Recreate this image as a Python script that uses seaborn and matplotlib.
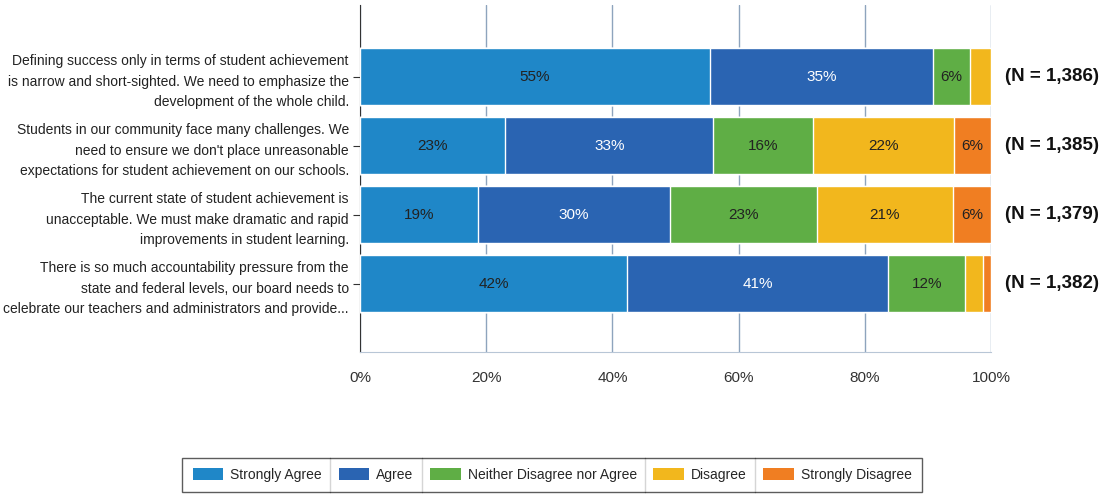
import numpy as np
import pandas as pd
import seaborn as sns
import matplotlib.pyplot as plt
from matplotlib.patches import Patch
from matplotlib.lines import Line2D

# data
statements = [
    "Defining success only in terms of student achievement\nis narrow and short-sighted. We need to emphasize the\ndevelopment of the whole child.",
    "Students in our community face many challenges. We\nneed to ensure we don't place unreasonable\nexpectations for student achievement on our schools.",
    "The current state of student achievement is\nunacceptable. We must make dramatic and rapid\nimprovements in student learning.",
    "There is so much accountability pressure from the\nstate and federal levels, our board needs to\ncelebrate our teachers and administrators and provide...",
]
n_labels = ["(N = 1,386)", "(N = 1,385)", "(N = 1,379)", "(N = 1,382)"]
categories = ["Strongly Agree", "Agree", "Neither Disagree nor Agree", "Disagree", "Strongly Disagree"]
strongly_agree = [55.4, 23.0, 18.7, 42.3]
agree = [35.4, 33.0, 30.4, 41.4]
neither = [5.8, 15.8, 23.4, 12.2]
disagree = [3.4, 22.3, 21.4, 2.8]
strongly_disagree = [0.0, 5.9, 6.1, 1.3]
colors = ["#1f87c8", "#2a64b2", "#5fae45", "#f2b71d", "#f07e22"]
text_colors = ["#222222", "white", "#222222", "#222222", "#222222"]

sns.set_style("white")
plt.rcParams["font.family"] = ["Liberation Sans", "DejaVu Sans"]

df = pd.DataFrame({
    "statement": statements,
    "Strongly Agree": strongly_agree,
    "Agree": agree,
    "Neither Disagree nor Agree": neither,
    "Disagree": disagree,
    "Strongly Disagree": strongly_disagree,
})
cum = df[categories].cumsum(axis=1)

fig = plt.figure(figsize=(11.09, 5.01), dpi=100)
ax = fig.add_axes([0.3246, 0.2974, 0.569, 0.6926])

# stacked bars: draw cumulative totals from the last segment backwards
for i in range(len(categories) - 1, -1, -1):
    sns.barplot(x=cum[categories[i]], y=df["statement"], color=colors[i],
                orient="h", width=0.82, saturation=1, ax=ax, zorder=3)

for i, cat in enumerate(categories):
    for j in range(len(statements)):
        v = df[cat][j]
        if v >= 5:
            ax.text(cum[cat][j] - v / 2, j, f"{v:.0f}%", ha="center", va="center",
                    fontsize=11, color=text_colors[i], zorder=4)

for j, n in enumerate(n_labels):
    ax.text(1.022, j, n, transform=ax.get_yaxis_transform(), ha="left", va="center",
            fontsize=13.5, fontweight="bold", color="#111111")

ax.set_xlim(0, 100)
ax.set_ylim(3.99, -1.04)
ax.set_xticks([0, 20, 40, 60, 80, 100])
ax.set_xticklabels(["0%", "20%", "40%", "60%", "80%", "100%"], fontsize=11, color="#333333")
ax.tick_params(axis="x", length=0, pad=14)
ax.tick_params(axis="y", length=5, color="#333333", left=True, pad=3,
               labelsize=10, labelcolor="#222222")
ax.xaxis.grid(True, color="#8ea4bd", linewidth=1.0, zorder=0)
ax.set_xlabel("")
ax.set_ylabel("")
for lbl in ax.get_yticklabels():
    lbl.set_multialignment("right")
    lbl.set_linespacing(1.6)

ax.spines["top"].set_visible(False)
ax.spines["right"].set_visible(False)
ax.spines["left"].set_color("#333333")
ax.spines["bottom"].set_color("#b8c6d6")

handles = [Patch(facecolor=c, edgecolor="none") for c in colors]
leg = fig.legend(handles, categories, loc="center", bbox_to_anchor=(0.498, 0.052), ncol=5,
                 frameon=True, fontsize=10, handlelength=2.2, handleheight=1.0,
                 handletextpad=0.5, columnspacing=1.2, borderpad=0.75, fancybox=False)
leg.get_frame().set_edgecolor("#333333")
leg.get_frame().set_linewidth(1.0)

# separators between legend entries
fig.canvas.draw()
r = fig.canvas.get_renderer()
fb = leg.get_frame().get_window_extent(r)
texts = leg.get_texts()
hpatches = leg.legend_handles
for k in range(len(texts) - 1):
    t_end = texts[k].get_window_extent(r).x1
    h_start = hpatches[k + 1].get_window_extent(r).x0
    xm = (t_end + h_start) / 2 / fig.bbox.width
    fig.add_artist(Line2D([xm, xm], [fb.y0 / fig.bbox.height, fb.y1 / fig.bbox.height],
                          color="#333333", linewidth=1.0))

plt.savefig("out.png", dpi=100)
